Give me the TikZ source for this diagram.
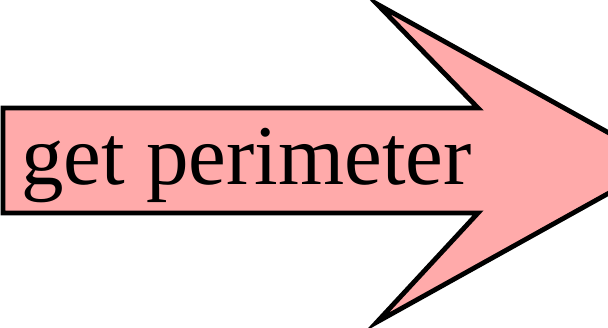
\documentclass[tikz,border=0pt]{standalone}
\usepackage{fontspec}
\setmainfont{Liberation Serif}
\usepackage{xcolor}
\definecolor{arrowpink}{RGB}{255,170,170}
\begin{document}
\begin{tikzpicture}[x=1pt,y=1pt]
\useasboundingbox (0,0) rectangle (608,327);
\clip (0,0) rectangle (608,327);
\draw[line width=4.8pt,miter limit=20,fill=arrowpink] (3,114)--(3,219)--(478,219)--(377,323)--(663,164)--(377,5)--(478,114)--cycle;
\node[inner sep=0pt,anchor=base west,font=\fontsize{85}{100}\selectfont] (label) at (21,142) {get perimeter};
\end{tikzpicture}
\end{document}
